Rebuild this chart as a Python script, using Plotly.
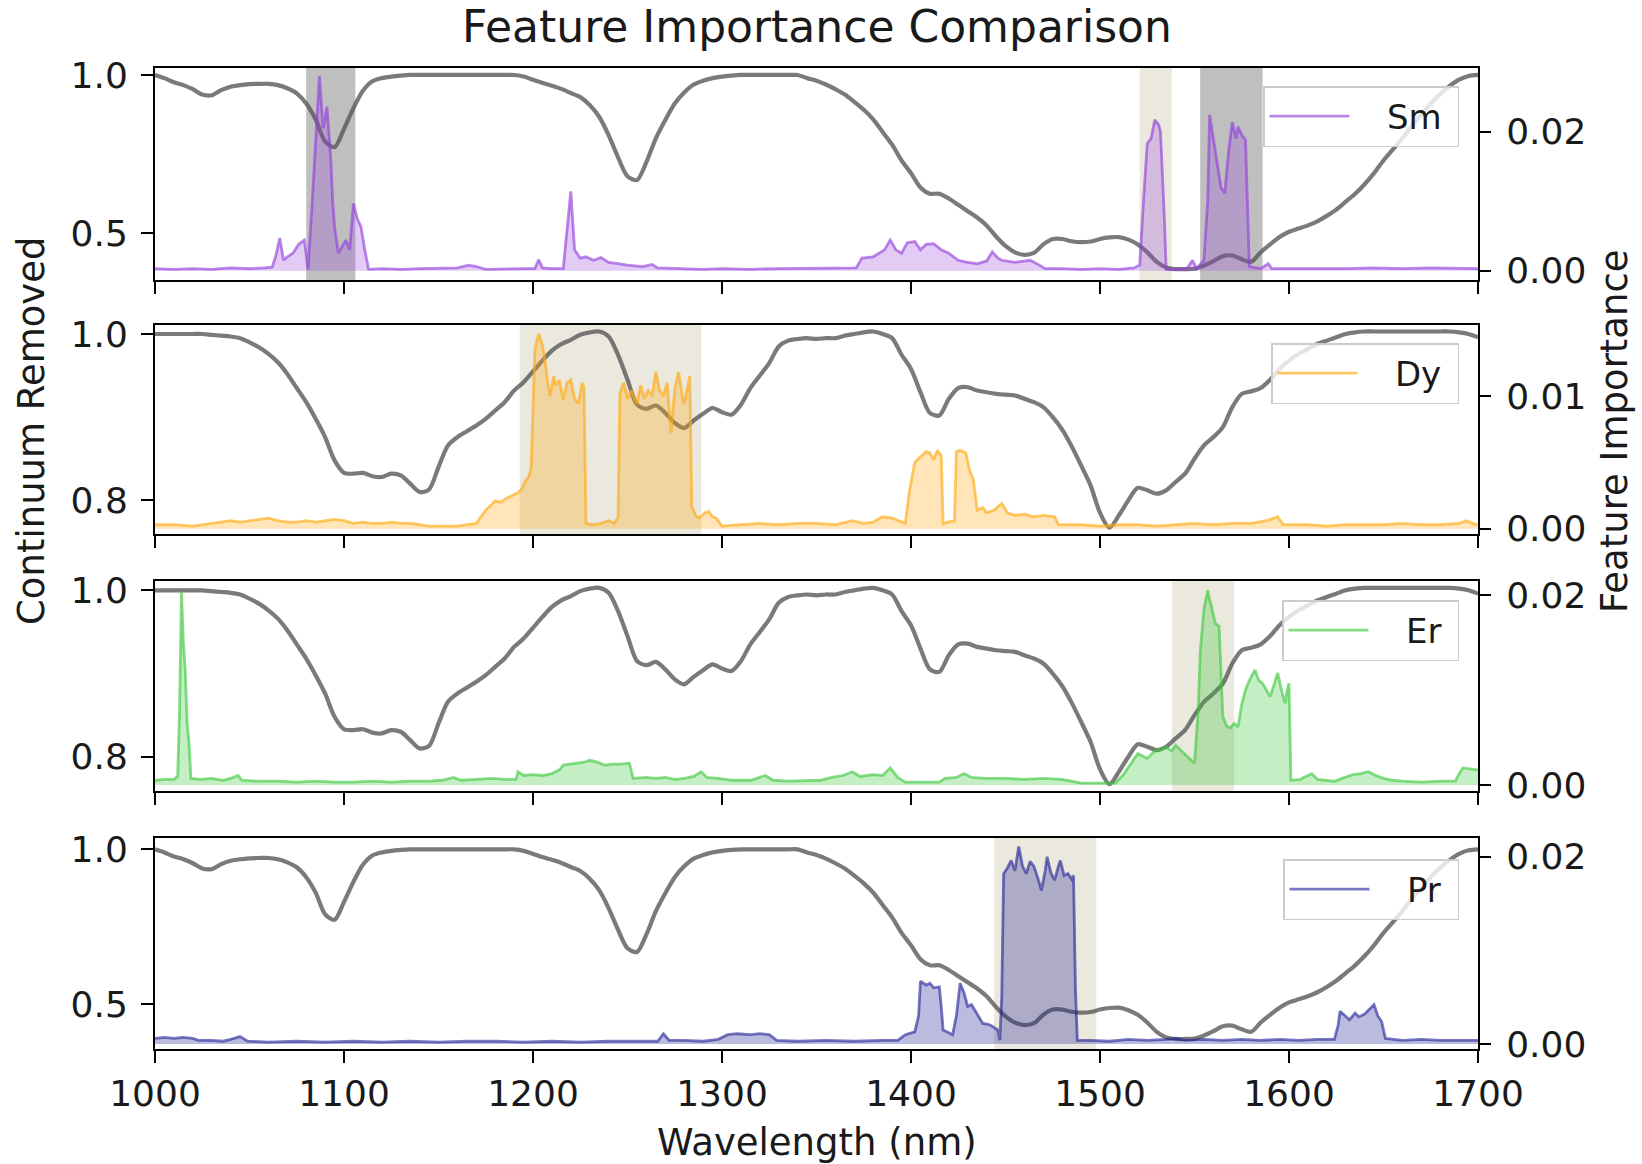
import plotly.graph_objects as go

FONT = "DejaVu Sans"

# ---------------- data ----------------
wl_grid = list(range(1000, 1701, 5))

# continuum-removed spectrum used in the Sm and Pr panels
cont_A = [
    1.000, 0.990, 0.977, 0.968, 0.955, 0.938, 0.936, 0.952, 0.963, 0.968,   # 1000-1045
    0.971, 0.972, 0.972, 0.968, 0.958, 0.942, 0.910, 0.860, 0.790, 0.772,   # 1050-1095
    0.830, 0.895, 0.950, 0.980, 0.990, 0.995, 0.998, 1.000, 1.000, 1.000,   # 1100-1145
    1.000, 1.000, 1.000, 1.000, 1.000, 1.000, 1.000, 1.000, 1.000, 0.995,   # 1150-1195
    0.985, 0.975, 0.966, 0.956, 0.943, 0.930, 0.905, 0.868, 0.810, 0.740,   # 1200-1245
    0.680, 0.668, 0.725, 0.800, 0.858, 0.910, 0.945, 0.970, 0.982, 0.990,   # 1250-1295
    0.995, 0.998, 1.000, 1.000, 1.000, 1.000, 1.000, 1.000, 1.000, 0.990,   # 1300-1345
    0.982, 0.970, 0.955, 0.938, 0.915, 0.890, 0.860, 0.820, 0.780, 0.730,   # 1350-1395
    0.690, 0.645, 0.625, 0.625, 0.610, 0.590, 0.570, 0.550, 0.525, 0.490,   # 1400-1445
    0.460, 0.440, 0.432, 0.438, 0.465, 0.482, 0.482, 0.475, 0.472, 0.474,   # 1450-1495
    0.482, 0.487, 0.488, 0.480, 0.465, 0.440, 0.410, 0.392, 0.387, 0.387,   # 1500-1545
    0.388, 0.398, 0.412, 0.428, 0.430, 0.418, 0.410, 0.440, 0.465, 0.488,   # 1550-1595
    0.505, 0.515, 0.525, 0.538, 0.555, 0.575, 0.600, 0.625, 0.655, 0.690,   # 1600-1645
    0.730, 0.765, 0.800, 0.840, 0.875, 0.910, 0.940, 0.965, 0.985, 0.997,   # 1650-1695
    1.000,                                                                  # 1700
]

# continuum-removed spectrum used in the Dy and Er panels
cont_B = [
    1.000, 1.000, 1.000, 1.000, 1.000, 1.000, 0.999, 0.998, 0.997, 0.995,   # 1000-1045
    0.990, 0.984, 0.976, 0.966, 0.952, 0.935, 0.918, 0.898, 0.876, 0.848,   # 1050-1095
    0.833, 0.832, 0.833, 0.829, 0.828, 0.832, 0.830, 0.820, 0.810, 0.813,   # 1100-1145
    0.840, 0.866, 0.876, 0.883, 0.890, 0.898, 0.908, 0.918, 0.932, 0.942,   # 1150-1195
    0.955, 0.968, 0.980, 0.988, 0.993, 0.999, 1.002, 1.003, 0.997, 0.975,   # 1200-1245
    0.945, 0.915, 0.910, 0.914, 0.905, 0.893, 0.887, 0.896, 0.904, 0.911,   # 1250-1295
    0.906, 0.903, 0.915, 0.935, 0.950, 0.965, 0.985, 0.992, 0.994, 0.995,   # 1300-1345
    0.994, 0.995, 0.995, 0.998, 1.000, 1.002, 1.003, 1.000, 0.995, 0.975,   # 1350-1395
    0.958, 0.930, 0.905, 0.902, 0.922, 0.935, 0.936, 0.932, 0.930, 0.928,   # 1400-1445
    0.927, 0.926, 0.922, 0.918, 0.912, 0.900, 0.885, 0.865, 0.842, 0.818,   # 1450-1495
    0.785, 0.767, 0.782, 0.800, 0.815, 0.812, 0.808, 0.812, 0.822, 0.832,   # 1500-1545
    0.850, 0.866, 0.876, 0.888, 0.912, 0.928, 0.931, 0.935, 0.945, 0.958,   # 1550-1595
    0.968, 0.976, 0.982, 0.988, 0.992, 0.996, 1.000, 1.002, 1.003, 1.003,   # 1600-1645
    1.003, 1.003, 1.003, 1.003, 1.003, 1.003, 1.003, 1.003, 1.002, 1.000,   # 1650-1695
    0.996,                                                                  # 1700
]

# feature importance (wavelength, importance)
sm_pts = [
    (1000, 0.0003), (1010, 0.0002), (1020, 0.0003), (1030, 0.0002), (1040, 0.0004), (1050, 0.0003),
    (1058, 0.0004), (1062, 0.0005), (1064, 0.0022), (1066, 0.0047), (1068, 0.0015), (1070, 0.0020),
    (1073, 0.0025), (1076, 0.0038), (1079, 0.0044), (1081, 0.0002), (1083, 0.0090), (1085, 0.0180),
    (1087, 0.0280), (1088, 0.0240), (1089, 0.0205), (1091, 0.0236), (1092, 0.0200), (1093, 0.0160),
    (1094, 0.0100), (1095, 0.0063), (1097, 0.0025), (1099, 0.0035), (1101, 0.0044), (1103, 0.0030),
    (1105, 0.0097), (1107, 0.0075), (1109, 0.0063), (1111, 0.0030), (1113, 0.0002), (1120, 0.0003),
    (1130, 0.0002), (1140, 0.0003), (1150, 0.0003), (1160, 0.0004), (1166, 0.0008), (1170, 0.0006),
    (1175, 0.0002), (1185, 0.0003), (1195, 0.0003), (1201, 0.0003), (1203, 0.0016), (1205, 0.0004),
    (1210, 0.0003), (1216, 0.0003), (1218, 0.0060), (1220, 0.0114), (1222, 0.0030), (1225, 0.0018),
    (1228, 0.0020), (1232, 0.0015), (1236, 0.0019), (1240, 0.0012), (1245, 0.0010), (1250, 0.0008),
    (1258, 0.0006), (1263, 0.0009), (1266, 0.0004), (1275, 0.0003), (1290, 0.0002), (1300, 0.0003),
    (1315, 0.0002), (1330, 0.0003), (1345, 0.0003), (1360, 0.0004), (1371, 0.0004), (1374, 0.0018),
    (1380, 0.0020), (1386, 0.0030), (1389, 0.0044), (1392, 0.0030), (1395, 0.0025), (1398, 0.0040),
    (1402, 0.0042), (1405, 0.0030), (1408, 0.0038), (1412, 0.0039), (1416, 0.0030), (1420, 0.0025),
    (1425, 0.0015), (1430, 0.0012), (1435, 0.0010), (1440, 0.0014), (1443, 0.0027), (1446, 0.0018),
    (1448, 0.0015), (1455, 0.0012), (1460, 0.0014), (1463, 0.0015), (1468, 0.0008), (1471, 0.0003),
    (1480, 0.0003), (1490, 0.0002), (1500, 0.0003), (1510, 0.0002), (1518, 0.0004), (1521, 0.0008),
    (1523, 0.0100), (1525, 0.0183), (1527, 0.0190), (1529, 0.0217), (1531, 0.0210), (1532, 0.0200),
    (1534, 0.0080), (1535, 0.0002), (1540, 0.0002), (1546, 0.0003), (1549, 0.0015), (1551, 0.0003),
    (1555, 0.0015), (1557, 0.0100), (1558, 0.0224), (1560, 0.0190), (1562, 0.0160), (1564, 0.0120),
    (1566, 0.0111), (1568, 0.0170), (1570, 0.0214), (1572, 0.0190), (1573, 0.0207), (1575, 0.0195),
    (1577, 0.0188), (1578, 0.0080), (1579, 0.0006), (1585, 0.0003), (1589, 0.0010), (1591, 0.0003),
    (1600, 0.0003), (1615, 0.0002), (1630, 0.0003), (1645, 0.0004), (1660, 0.0003), (1675, 0.0004),
    (1690, 0.0003), (1700, 0.0003),
]

dy_pts = [
    (1000, 0.0003), (1010, 0.0003), (1020, 0.0002), (1030, 0.0004), (1035, 0.0005), (1040, 0.0006),
    (1045, 0.0005), (1050, 0.0006), (1055, 0.0007), (1060, 0.0008), (1065, 0.0006), (1070, 0.0005),
    (1075, 0.0005), (1080, 0.0006), (1085, 0.0005), (1090, 0.0006), (1095, 0.0007), (1100, 0.0006),
    (1105, 0.0004), (1110, 0.0005), (1115, 0.0004), (1120, 0.0004), (1125, 0.0005), (1130, 0.0004),
    (1135, 0.0004), (1140, 0.0003), (1145, 0.0002), (1150, 0.0002), (1155, 0.0002), (1160, 0.0002),
    (1165, 0.0003), (1170, 0.0004), (1173, 0.0010), (1175, 0.0014), (1178, 0.0018), (1180, 0.0021),
    (1183, 0.0020), (1186, 0.0023), (1189, 0.0025), (1192, 0.0027), (1194, 0.0030), (1196, 0.0036),
    (1198, 0.0040), (1199, 0.0046), (1201, 0.0135), (1203, 0.0147), (1205, 0.0138), (1206, 0.0130),
    (1208, 0.0108), (1209, 0.0100), (1211, 0.0115), (1212, 0.0108), (1214, 0.0112), (1216, 0.0097),
    (1218, 0.0110), (1220, 0.0112), (1222, 0.0098), (1224, 0.0094), (1226, 0.0110), (1227, 0.0106),
    (1228, 0.0004), (1232, 0.0003), (1236, 0.0004), (1240, 0.0006), (1243, 0.0004), (1245, 0.0008),
    (1246, 0.0102), (1248, 0.0110), (1250, 0.0098), (1252, 0.0104), (1255, 0.0094), (1257, 0.0108),
    (1259, 0.0098), (1261, 0.0104), (1263, 0.0100), (1265, 0.0118), (1267, 0.0104), (1269, 0.0100),
    (1271, 0.0110), (1273, 0.0072), (1275, 0.0105), (1277, 0.0118), (1279, 0.0100), (1280, 0.0094),
    (1282, 0.0108), (1283, 0.0115), (1284, 0.0017), (1286, 0.0010), (1288, 0.0008), (1291, 0.0012),
    (1293, 0.0013), (1295, 0.0009), (1297, 0.0008), (1300, 0.0002), (1310, 0.0003), (1320, 0.0004),
    (1330, 0.0003), (1340, 0.0004), (1350, 0.0004), (1360, 0.0003), (1369, 0.0006), (1375, 0.0004),
    (1380, 0.0005), (1385, 0.0009), (1390, 0.0008), (1397, 0.0004), (1399, 0.0027), (1402, 0.0050),
    (1405, 0.0054), (1408, 0.0058), (1410, 0.0057), (1412, 0.0052), (1414, 0.0059), (1416, 0.0055),
    (1417, 0.0004), (1420, 0.0005), (1423, 0.0006), (1424, 0.0058), (1426, 0.0059), (1429, 0.0057),
    (1431, 0.0044), (1433, 0.0037), (1435, 0.0014), (1438, 0.0016), (1440, 0.0012), (1444, 0.0014),
    (1448, 0.0019), (1451, 0.0012), (1455, 0.0010), (1460, 0.0011), (1465, 0.0009), (1470, 0.0010),
    (1476, 0.0009), (1478, 0.0003), (1490, 0.0003), (1500, 0.0002), (1510, 0.0003), (1520, 0.0003),
    (1530, 0.0002), (1540, 0.0003), (1550, 0.0004), (1560, 0.0003), (1570, 0.0004), (1580, 0.0004),
    (1588, 0.0006), (1592, 0.0008), (1594, 0.0009), (1597, 0.0003), (1610, 0.0003), (1620, 0.0002),
    (1630, 0.0003), (1640, 0.0003), (1650, 0.0003), (1660, 0.0004), (1670, 0.0003), (1680, 0.0003),
    (1690, 0.0004), (1694, 0.0006), (1697, 0.0004), (1700, 0.0003),
]

er_pts = [
    (1000, 0.0005), (1005, 0.0006), (1010, 0.0006), (1012, 0.0009), (1013, 0.0080), (1014, 0.0204),
    (1015, 0.0150), (1016, 0.0121), (1017, 0.0065), (1018, 0.0045), (1019, 0.0007), (1024, 0.0006),
    (1030, 0.0007), (1036, 0.0005), (1040, 0.0007), (1044, 0.0010), (1046, 0.0005), (1055, 0.0004),
    (1065, 0.0004), (1075, 0.0003), (1085, 0.0004), (1095, 0.0003), (1105, 0.0003), (1115, 0.0004),
    (1125, 0.0003), (1135, 0.0004), (1145, 0.0004), (1152, 0.0005), (1158, 0.0008), (1162, 0.0005),
    (1170, 0.0006), (1178, 0.0007), (1185, 0.0006), (1191, 0.0006), (1192, 0.0014), (1195, 0.0010),
    (1200, 0.0011), (1205, 0.0010), (1210, 0.0012), (1212, 0.0014), (1214, 0.0016), (1216, 0.0021),
    (1220, 0.0022), (1224, 0.0023), (1227, 0.0024), (1230, 0.0026), (1234, 0.0024), (1238, 0.0021),
    (1242, 0.0022), (1246, 0.0022), (1251, 0.0023), (1253, 0.0007), (1260, 0.0008), (1265, 0.0007),
    (1270, 0.0008), (1275, 0.0006), (1280, 0.0007), (1285, 0.0009), (1289, 0.0014), (1292, 0.0008),
    (1298, 0.0007), (1305, 0.0005), (1315, 0.0005), (1323, 0.0010), (1327, 0.0005), (1335, 0.0004),
    (1345, 0.0005), (1352, 0.0005), (1358, 0.0008), (1364, 0.0010), (1369, 0.0014), (1373, 0.0009),
    (1380, 0.0011), (1385, 0.0010), (1389, 0.0018), (1393, 0.0008), (1397, 0.0003), (1405, 0.0003),
    (1415, 0.0003), (1418, 0.0007), (1424, 0.0008), (1428, 0.0012), (1432, 0.0008), (1440, 0.0007),
    (1450, 0.0007), (1460, 0.0006), (1470, 0.0007), (1480, 0.0006), (1485, 0.0004), (1490, 0.0002),
    (1500, 0.0002), (1508, 0.0002), (1512, 0.0010), (1515, 0.0019), (1518, 0.0028), (1520, 0.0033),
    (1523, 0.0030), (1525, 0.0028), (1528, 0.0034), (1530, 0.0037), (1533, 0.0038), (1535, 0.0040),
    (1538, 0.0036), (1540, 0.0042), (1543, 0.0036), (1545, 0.0032), (1548, 0.0027), (1550, 0.0023),
    (1552, 0.0080), (1553, 0.0139), (1555, 0.0185), (1557, 0.0205), (1558, 0.0195), (1559, 0.0188),
    (1561, 0.0170), (1563, 0.0167), (1564, 0.0120), (1565, 0.0072), (1567, 0.0062), (1569, 0.0060),
    (1571, 0.0065), (1573, 0.0061), (1575, 0.0085), (1577, 0.0100), (1579, 0.0110), (1581, 0.0118),
    (1582, 0.0121), (1584, 0.0110), (1586, 0.0107), (1588, 0.0100), (1590, 0.0093), (1592, 0.0105),
    (1594, 0.0118), (1596, 0.0100), (1598, 0.0086), (1599, 0.0100), (1600, 0.0107), (1601, 0.0005),
    (1606, 0.0006), (1610, 0.0010), (1612, 0.0012), (1615, 0.0006), (1620, 0.0005), (1624, 0.0004),
    (1628, 0.0007), (1632, 0.0010), (1634, 0.0011), (1638, 0.0012), (1642, 0.0014), (1646, 0.0010),
    (1650, 0.0007), (1655, 0.0005), (1660, 0.0004), (1670, 0.0003), (1680, 0.0004), (1688, 0.0004),
    (1690, 0.0012), (1692, 0.0018), (1695, 0.0017), (1698, 0.0016), (1700, 0.0016),
]

pr_pts = [
    (1000, 0.0006), (1005, 0.0007), (1010, 0.0006), (1015, 0.0007), (1020, 0.0006), (1023, 0.0004),
    (1030, 0.0004), (1036, 0.0003), (1040, 0.0005), (1045, 0.0008), (1049, 0.0003), (1060, 0.0002),
    (1075, 0.0003), (1090, 0.0002), (1105, 0.0003), (1120, 0.0002), (1135, 0.0003), (1150, 0.0002),
    (1165, 0.0003), (1180, 0.0003), (1195, 0.0002), (1210, 0.0003), (1225, 0.0002), (1240, 0.0003),
    (1255, 0.0003), (1266, 0.0003), (1269, 0.0011), (1272, 0.0004), (1280, 0.0004), (1290, 0.0003),
    (1298, 0.0005), (1303, 0.0010), (1308, 0.0011), (1315, 0.0010), (1320, 0.0011), (1325, 0.0010),
    (1329, 0.0004), (1340, 0.0003), (1355, 0.0004), (1370, 0.0003), (1385, 0.0004), (1393, 0.0004),
    (1397, 0.0010), (1402, 0.0013), (1404, 0.0030), (1405, 0.0067), (1408, 0.0063), (1410, 0.0065),
    (1412, 0.0060), (1415, 0.0061), (1416, 0.0040), (1417, 0.0015), (1420, 0.0012), (1422, 0.0010),
    (1424, 0.0030), (1426, 0.0065), (1428, 0.0055), (1430, 0.0040), (1432, 0.0042), (1434, 0.0035),
    (1436, 0.0028), (1438, 0.0022), (1441, 0.0021), (1443, 0.0019), (1446, 0.0015), (1447, 0.0004),
    (1448, 0.0050), (1449, 0.0182), (1451, 0.0188), (1453, 0.0196), (1455, 0.0185), (1457, 0.0211),
    (1459, 0.0190), (1461, 0.0182), (1463, 0.0195), (1465, 0.0190), (1467, 0.0178), (1469, 0.0164),
    (1471, 0.0185), (1472, 0.0200), (1474, 0.0183), (1476, 0.0175), (1478, 0.0190), (1479, 0.0196),
    (1481, 0.0180), (1483, 0.0182), (1485, 0.0176), (1486, 0.0180), (1487, 0.0060), (1488, 0.0004),
    (1495, 0.0004), (1505, 0.0003), (1515, 0.0005), (1525, 0.0004), (1535, 0.0005), (1540, 0.0006),
    (1545, 0.0004), (1555, 0.0005), (1565, 0.0004), (1575, 0.0005), (1585, 0.0004), (1595, 0.0005),
    (1605, 0.0004), (1615, 0.0005), (1624, 0.0005), (1626, 0.0020), (1627, 0.0035), (1630, 0.0030),
    (1632, 0.0026), (1635, 0.0033), (1637, 0.0029), (1640, 0.0032), (1642, 0.0036), (1645, 0.0042),
    (1647, 0.0030), (1649, 0.0024), (1651, 0.0006), (1660, 0.0004), (1670, 0.0005), (1680, 0.0004),
    (1690, 0.0004), (1700, 0.0004),
]

elements = ["Sm", "Dy", "Er", "Pr"]
importance = [sm_pts, dy_pts, er_pts, pr_pts]
continuum = [cont_A, cont_B, cont_B, cont_A]

# highlighted wavelength windows (start, end, kind)
windows = [
    [(1080, 1106, "gray"), (1521, 1538, "tan"), (1553, 1586, "gray")],
    [(1193, 1289, "tan")],
    [(1538, 1571, "tan")],
    [(1444, 1498, "tan")],
]

x_ticks = [1000, 1100, 1200, 1300, 1400, 1500, 1600, 1700]
left_ticks = [[0.5, 1.0], [0.8, 1.0], [0.8, 1.0], [0.5, 1.0]]
right_ticks = [[0.0, 0.02], [0.0, 0.01], [0.0, 0.02], [0.0, 0.02]]

# ---------------- styles ----------------
line_colors = ["rgba(145,60,220,0.62)", "rgba(255,170,20,0.65)",
               "rgba(60,200,60,0.62)", "rgba(30,30,150,0.6)"]
fill_colors = ["rgba(150,70,220,0.28)", "rgba(255,170,20,0.3)",
               "rgba(60,200,60,0.3)", "rgba(30,30,150,0.3)"]
span_colors = {"gray": "rgba(128,128,128,0.5)", "tan": "rgba(190,182,145,0.3)"}

left_ranges = [[0.3526, 1.022], [0.7595, 1.0108], [0.7588, 1.0112], [0.3545, 1.0366]]
right_ranges = [[-0.00134, 0.02916], [-0.0004, 0.01534], [-0.00063, 0.02147], [-0.00053, 0.022]]

W, H = 1642, 1164
ML, MR, MT, MB = 155, 164, 68, 115
PW, PH = W - ML - MR, H - MT - MB
panel_px = [(68, 280), (325, 534), (581, 791), (838, 1049)]  # top, bottom pixel rows
TXT = "#1a1a1a"
NB = "\u00a0"


def py(p):
    return (H - MB - p) / PH


fig = go.Figure()
layout = dict(
    template="none",
    width=W, height=H,
    margin=dict(l=ML, r=MR, t=MT, b=MB, autoexpand=False),
    paper_bgcolor="white", plot_bgcolor="white",
    font=dict(family=FONT, size=35, color=TXT),
    showlegend=True,
    title=dict(text="Feature Importance Comparison", x=817 / W, xanchor="center",
               y=1 - 27 / H, yanchor="middle", font=dict(size=44, family=FONT, color=TXT)),
)
shapes = []
axis_common = dict(showline=True, linecolor="black", linewidth=2, mirror=True,
                   showgrid=False, zeroline=False, ticks="outside", ticklen=12,
                   tickwidth=2, tickcolor="black", automargin=False,
                   tickfont=dict(size=36, family=FONT, color=TXT))

for i in range(4):
    n = i + 1
    xid = "x" if n == 1 else f"x{n}"
    yl = "y" if n == 1 else f"y{n}"
    yr = f"y{n + 4}"
    top, bot = panel_px[i]
    dom = [py(bot), py(top)]

    xa = dict(axis_common, domain=[0, 1], range=[1000, 1700], anchor=yl,
              tickvals=x_ticks, ticktext=[str(v) for v in x_ticks],
              showticklabels=(n == 4))
    if n > 1:
        xa["matches"] = "x"
    layout["xaxis" if n == 1 else f"xaxis{n}"] = xa

    layout["yaxis" if n == 1 else f"yaxis{n}"] = dict(
        axis_common, domain=dom, range=left_ranges[i], anchor=xid, side="left",
        ticklabelstandoff=6,
        tickvals=left_ticks[i], ticktext=[f"{v:.1f}" for v in left_ticks[i]])
    layout[f"yaxis{n + 4}"] = dict(
        axis_common, domain=dom, range=right_ranges[i], anchor=xid, side="right",
        overlaying=yl, showline=False, ticklabelstandoff=8,
        tickvals=right_ticks[i], ticktext=[f"{v:.2f}" for v in right_ticks[i]])

    # continuum spectrum
    fig.add_trace(go.Scatter(x=wl_grid, y=continuum[i], mode="lines",
                             line=dict(color="rgba(85,85,85,0.78)", width=4.2,
                                       shape="spline", smoothing=0.8),
                             xaxis=xid, yaxis=yl, showlegend=False, hoverinfo="skip"))
    # importance fill + line
    wl = [p[0] for p in importance[i]]
    val = [p[1] for p in importance[i]]
    fig.add_trace(go.Scatter(x=wl, y=val, mode="lines", line=dict(width=0),
                             fill="tozeroy", fillcolor=fill_colors[i],
                             xaxis=xid, yaxis=yr, showlegend=False, hoverinfo="skip"))
    leg = "legend" if n == 1 else f"legend{n}"
    fig.add_trace(go.Scatter(x=wl, y=val, mode="lines",
                             name=NB * 3 + elements[i] + NB,
                             line=dict(color=line_colors[i], width=2.8),
                             xaxis=xid, yaxis=yr, legend=leg))

    legend_tops = [86, 343, 600, 859]
    layout[leg] = dict(x=(1459 - ML) / PW, y=py(legend_tops[i]), xanchor="right", yanchor="top",
                       xref="paper", yref="paper",
                       bgcolor="rgba(255,255,255,0.8)", bordercolor="#cccccc", borderwidth=1.5,
                       font=dict(size=34, family=FONT, color=TXT), itemwidth=80,
                       tracegroupgap=0)

    for (a, b, kind) in windows[i]:
        shapes.append(dict(type="rect", xref=xid, yref=f"{yl} domain", x0=a, x1=b, y0=0, y1=1,
                           fillcolor=span_colors[kind], line=dict(width=0), layer="below"))

layout["shapes"] = shapes
layout["annotations"] = [
    dict(text="Continuum Removed", x=(31 - ML) / PW, y=py(431), xref="paper", yref="paper",
         textangle=-90, showarrow=False, xanchor="center", yanchor="middle",
         font=dict(size=37, family=FONT, color=TXT)),
    dict(text="Feature Importance", x=(1614 - ML) / PW, y=py(431), xref="paper", yref="paper",
         textangle=-90, showarrow=False, xanchor="center", yanchor="middle",
         font=dict(size=37, family=FONT, color=TXT)),
    dict(text="Wavelength (nm)", x=(817 - ML) / PW, y=py(1142), xref="paper", yref="paper",
         showarrow=False, xanchor="center", yanchor="middle",
         font=dict(size=37, family=FONT, color=TXT)),
]
fig.update_layout(**layout)
fig.write_html("out.html", config={"displayModeBar": False},
               post_script="document.body.style.margin='0px';document.body.style.padding='0px';")
